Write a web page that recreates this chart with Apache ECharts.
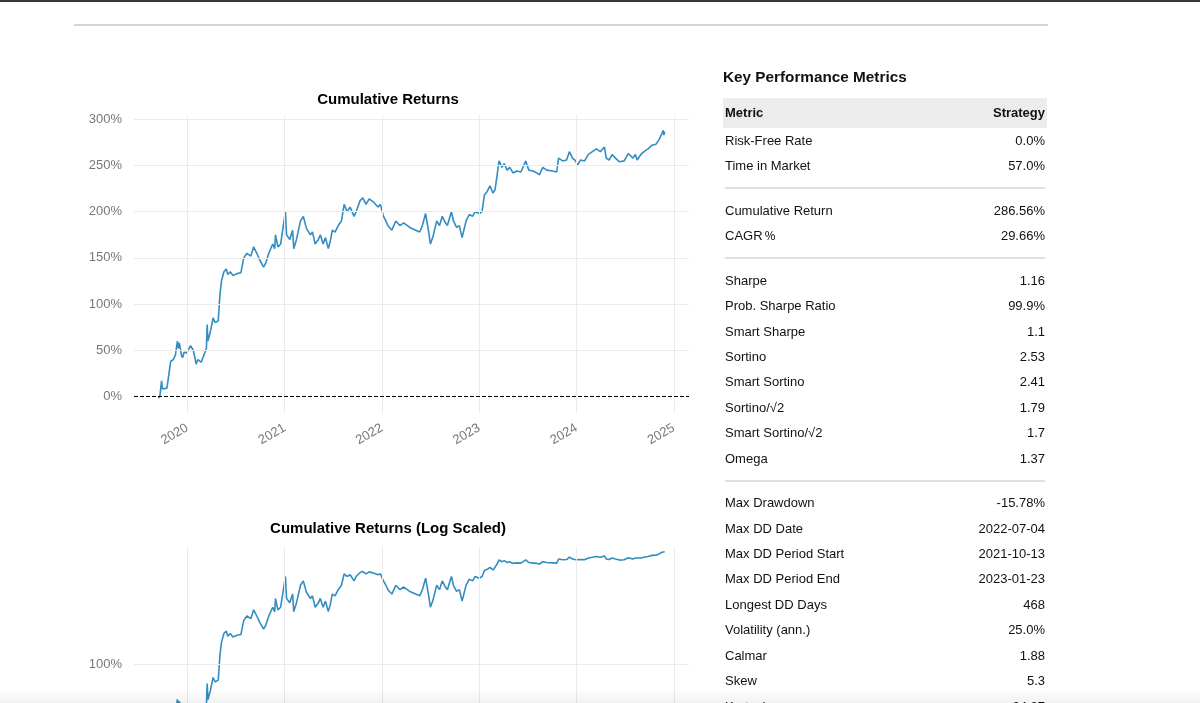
<!DOCTYPE html>
<html>
<head>
<meta charset="utf-8">
<script src="https://cdn.jsdelivr.net/npm/echarts@6/dist/echarts.min.js"></script>
<style>
  html, body { margin: 0; padding: 0; background: #fff; }
  body { width: 1200px; height: 703px; overflow: hidden; position: relative;
         font-family: "Liberation Sans", Arial, Helvetica, sans-serif; color: #111; }
  #chart { position: absolute; left: 0; top: 0; width: 1200px; height: 703px; }
  .abs { position: absolute; }
  .row { position: absolute; left: 725px; width: 320px; height: 20px; line-height: 20px; font-size: 13px; color: #111; white-space: nowrap; }
  .row .v { position: absolute; right: 0; top: 0; }
  .sep { position: absolute; left: 725px; width: 320px; height: 2px; background: #e0e0e0; }
  .pc { font-family: "Noto Sans CJK SC", "DejaVu Sans", sans-serif; font-size: 15px; line-height: 0; position: relative; top: -1px; }
</style>
</head>
<body>
<div id="chart"></div>
<div class="abs" style="left:0;top:0;width:1200px;height:2px;background:#3a3a3a;"></div>
<div class="abs" style="left:74px;top:24px;width:974px;height:2px;background:#d4d4d4;"></div>
<div id="table"></div>
<div class="abs" style="left:0;top:688px;width:1200px;height:15px;background:linear-gradient(to bottom, rgba(0,0,0,0), rgba(0,0,0,0.05));"></div>
<script>
// ---- data ----
const dates = [
  2019.706,2019.720,2019.735,2019.745,2019.763,2019.790,2019.796,2019.829,2019.857,2019.878,
  2019.898,2019.908,2019.918,2019.939,2019.951,2019.967,2019.992,2020.008,2020.033,2020.061,
  2020.082,2020.090,2020.110,2020.143,2020.171,2020.196,2020.204,2020.212,2020.237,2020.265,
  2020.286,2020.318,2020.335,2020.351,2020.376,2020.400,2020.416,2020.441,2020.469,2020.510,
  2020.551,2020.580,2020.612,2020.653,2020.682,2020.714,2020.743,2020.784,2020.808,2020.837,
  2020.878,2020.898,2020.906,2020.931,2020.959,2020.980,2021.008,2021.020,2021.053,2021.082,
  2021.094,2021.122,2021.163,2021.192,2021.224,2021.265,2021.286,2021.314,2021.347,2021.367,
  2021.396,2021.420,2021.449,2021.469,2021.490,2021.518,2021.551,2021.584,2021.612,2021.641,
  2021.673,2021.714,2021.735,2021.776,2021.804,2021.837,2021.869,2021.918,2021.959,2021.984,
  2022.016,2022.041,2022.061,2022.102,2022.143,2022.184,2022.224,2022.286,2022.347,2022.388,
  2022.416,2022.449,2022.478,2022.498,2022.522,2022.563,2022.592,2022.620,2022.653,2022.673,
  2022.714,2022.735,2022.767,2022.796,2022.824,2022.837,2022.865,2022.898,2022.931,2022.959,
  2023.000,2023.029,2023.053,2023.082,2023.110,2023.143,2023.163,2023.184,2023.204,2023.233,
  2023.257,2023.286,2023.314,2023.347,2023.388,2023.429,2023.478,2023.510,2023.551,2023.592,
  2023.620,2023.653,2023.694,2023.755,2023.796,2023.816,2023.857,2023.898,2023.927,2023.959,
  2023.992,2024.008,2024.041,2024.082,2024.122,2024.163,2024.204,2024.245,2024.286,2024.306,
  2024.335,2024.367,2024.400,2024.441,2024.490,2024.531,2024.580,2024.604,2024.624,2024.661,
  2024.694,2024.735,2024.776,2024.816,2024.849,2024.865,2024.878,2024.890,2024.898,2024.906
];
const cumulative = [
  -2,2,17,8,10,9,13,38,40,45,
  60,52,58,45,42,48,47,50,55,50,
  40,35,40,37,45,52,78,60,70,85,
  80,82,110,125,135,138,132,135,131,133,
  134,150,155,152,162,155,148,140,145,155,
  165,160,175,162,165,180,200,175,170,180,
  160,170,190,195,182,175,178,165,170,175,
  165,172,160,168,180,178,185,190,208,200,
  205,195,200,212,215,208,214,210,205,208,
  195,190,185,180,190,185,188,183,180,178,
  185,198,180,165,172,190,185,195,188,185,
  200,190,183,185,172,170,190,197,195,200,
  198,200,218,222,228,220,224,240,255,248,
  252,245,248,242,244,243,255,245,244,242,
  240,248,245,244,243,258,255,256,265,258,
  255,250,256,255,262,265,268,265,270,258,
  256,262,258,254,255,263,258,262,256,262,
  265,268,272,273,278,280,285,288,283,287
];
const yearTicks = [2020, 2021, 2022, 2023, 2024, 2025];
const pctTicks = [0, 50, 100, 150, 200, 250, 300];

const metricGroups = [
  [["Risk-Free Rate", "0.0%"], ["Time in Market", "57.0%"]],
  [["Cumulative Return", "286.56%"], ["CAGR<span class=\"pc\">\uFE6A</span>", "29.66%"]],
  [["Sharpe", "1.16"], ["Prob. Sharpe Ratio", "99.9%"], ["Smart Sharpe", "1.1"], ["Sortino", "2.53"],
   ["Smart Sortino", "2.41"], ["Sortino/\u221A2", "1.79"], ["Smart Sortino/\u221A2", "1.7"], ["Omega", "1.37"]],
  [["Max Drawdown", "-15.78%"], ["Max DD Date", "2022-07-04"], ["Max DD Period Start", "2021-10-13"],
   ["Max DD Period End", "2023-01-23"], ["Longest DD Days", "468"], ["Volatility (ann.)", "25.0%"],
   ["Calmar", "1.88"], ["Skew", "5.3"], ["Kurtosis", "24.87"]]
];

// ---- table ----
(function buildTable() {
  const t = document.getElementById('table');
  let html = '';
  html += '<div class="abs" style="left:723px;top:67px;height:20px;line-height:20px;font-size:15.3px;font-weight:bold;color:#111;">Key Performance Metrics</div>';
  html += '<div class="abs" style="left:723px;top:98px;width:324px;height:30px;background:#ececec;"></div>';
  html += '<div class="abs" style="left:725px;top:98px;width:320px;height:30px;line-height:30px;font-size:13px;font-weight:bold;color:#111;">Metric<span style="position:absolute;right:0;top:0;">Strategy</span></div>';
  let y = 141;
  const pitch = 25.43, gap = 44.4;
  metricGroups.forEach((g, gi) => {
    if (gi > 0) {
      html += '<div class="sep" style="top:' + (y - pitch + 21) + 'px;"></div>';
      y += gap - pitch;
    }
    g.forEach(r => {
      html += '<div class="row" style="top:' + (y - 10) + 'px;">' + r[0] + '<span class="v">' + r[1] + '</span></div>';
      y += pitch;
    });
  });
  t.innerHTML = html;
})();

// ---- chart ----
const FONT = '"Liberation Sans", Arial, Helvetica, sans-serif';
const LINE = '#348dc1';
const GRIDC = '#ebebeb';
const linData = dates.map((d, i) => [d, cumulative[i]]);
// matplotlib symlog transform (linthresh 2, linscale 1), in units where 100% = 1
function symlogUnits(pct) {
  const v = pct / 100, lin = 1 / (1 - 1 / 10);
  const t = Math.abs(v) <= 2 ? v * lin : Math.sign(v) * 2 * (lin + Math.log10(Math.abs(v) / 2));
  return t / lin;
}
const logData = dates.map((d, i) => [d, symlogUnits(cumulative[i])]);

function xAxisFor(gi) {
  return {
    gridIndex: gi, type: 'value', min: 2019.452, max: 2025.156,
    axisLine: { show: false }, axisTick: { show: false }, splitLine: { show: false },
    axisLabel: {
      customValues: yearTicks, rotate: 30, margin: 14,
      color: '#777', fontSize: 13, fontFamily: FONT,
      formatter: v => String(Math.round(v))
    }
  };
}
function gridLines(vals, horiz) {
  return vals.map(v => horiz ? { yAxis: v } : { xAxis: v });
}

const option = {
  animation: false,
  textStyle: { fontFamily: FONT },
  title: [
    { text: 'Cumulative Returns', left: 388, top: 92, textAlign: 'center', padding: 0,
      textStyle: { fontSize: 15, fontWeight: 'bold', color: '#000', fontFamily: FONT } },
    { text: 'Cumulative Returns (Log Scaled)', left: 388, top: 521, textAlign: 'center', padding: 0,
      textStyle: { fontSize: 15, fontWeight: 'bold', color: '#000', fontFamily: FONT } }
  ],
  grid: [
    { left: 134, top: 115, width: 555, height: 298, containLabel: false, outerBoundsMode: 'none' },
    { left: 134, top: 547, width: 555, height: 300, containLabel: false, outerBoundsMode: 'none' }
  ],
  xAxis: [xAxisFor(0), xAxisFor(1)],
  yAxis: [
    { gridIndex: 0, type: 'value', min: -17.9, max: 304.7,
      axisLine: { show: false }, axisTick: { show: false }, splitLine: { show: false },
      axisLabel: { customValues: pctTicks, formatter: '{value}%', color: '#777', fontSize: 13, margin: 12 } },
    { gridIndex: 1, type: 'value', min: -1.081, max: 2.336,
      axisLine: { show: false }, axisTick: { show: false }, splitLine: { show: false },
      axisLabel: { customValues: [1], color: '#777', fontSize: 13, margin: 12,
                   formatter: v => Math.abs(v - 1) < 1e-6 ? '100%' : '' } }
  ],
  series: [
    { type: 'line', xAxisIndex: 0, yAxisIndex: 0, z: 1, silent: true,
      data: [[2020, 0]], showSymbol: false, lineStyle: { opacity: 0 },
      markLine: { silent: true, symbol: 'none', label: { show: false },
        lineStyle: { color: GRIDC, width: 1, type: 'solid' },
        data: gridLines(pctTicks.slice(1), true).concat(gridLines(yearTicks, false)) } },
    { type: 'line', xAxisIndex: 0, yAxisIndex: 0, z: 3, data: linData, showSymbol: false,
      lineStyle: { color: LINE, width: 1.6 }, itemStyle: { color: LINE }, clip: false,
      markLine: { silent: true, symbol: 'none', label: { show: false },
        lineStyle: { color: '#000', width: 1.2, type: [4, 2] }, data: [{ yAxis: 0 }] } },
    { type: 'line', xAxisIndex: 1, yAxisIndex: 1, z: 1, silent: true,
      data: [[2020, 1]], showSymbol: false, lineStyle: { opacity: 0 },
      markLine: { silent: true, symbol: 'none', label: { show: false },
        lineStyle: { color: GRIDC, width: 1, type: 'solid' },
        data: gridLines([1], true).concat(gridLines(yearTicks, false)) } },
    { type: 'line', xAxisIndex: 1, yAxisIndex: 1, z: 3, data: logData, showSymbol: false,
      lineStyle: { color: LINE, width: 1.6 }, itemStyle: { color: LINE },
      markLine: { silent: true, symbol: 'none', label: { show: false },
        lineStyle: { color: '#000', width: 1.2, type: [4, 2] }, data: [{ yAxis: 0 }] } }
  ]
};
const chart = echarts.init(document.getElementById('chart'), null, { renderer: 'canvas' });
chart.setOption(option);
</script>
</body>
</html>
